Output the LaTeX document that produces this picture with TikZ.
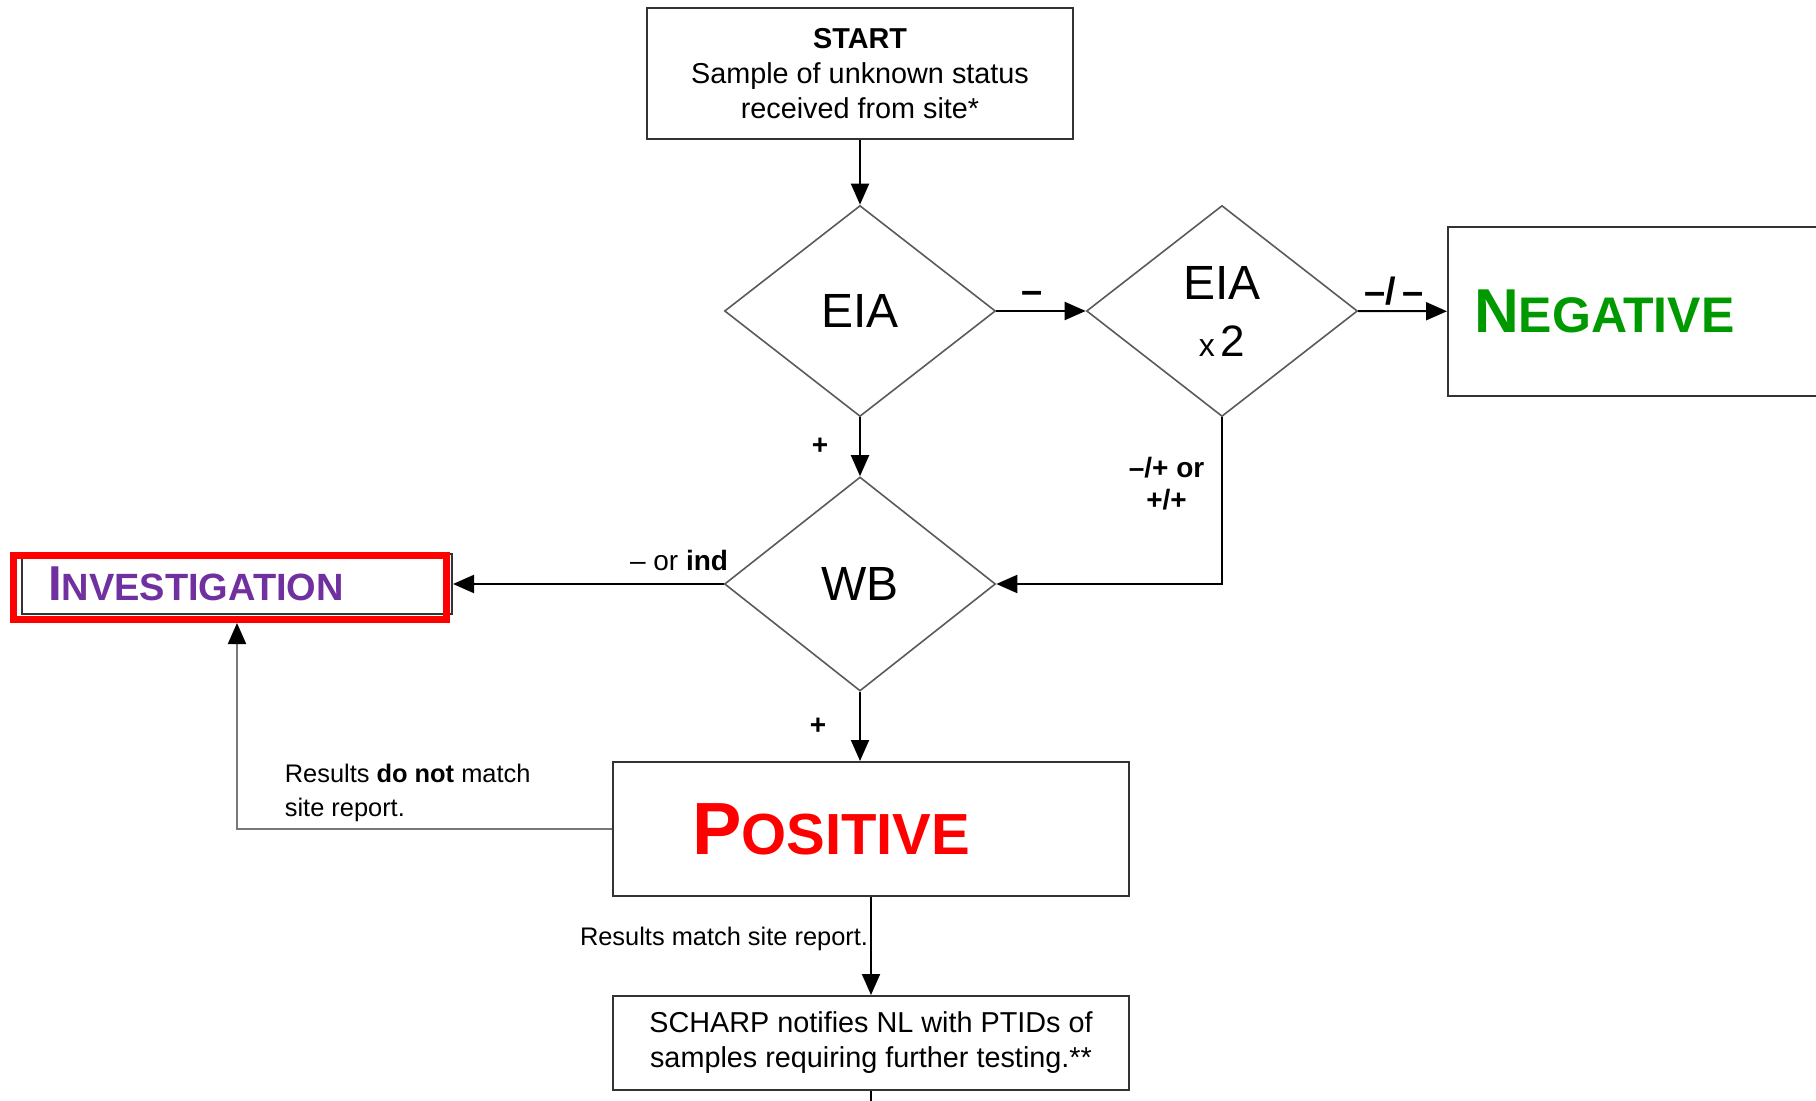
\documentclass[tikz,border=0pt]{standalone}
\usepackage{fontspec}
\setmainfont{Liberation Sans}
\usetikzlibrary{shapes.geometric,arrows.meta,positioning}

\definecolor{neggreen}{RGB}{0,153,0}
\definecolor{invpurple}{RGB}{112,48,160}
\definecolor{diagray}{RGB}{90,90,90}
\definecolor{linegray}{RGB}{120,120,120}

\begin{document}
\begin{tikzpicture}[x=0.5pt, y=-0.5pt, font=\fontsize{14.4}{17.5}\selectfont,
    box/.style={draw=black!80, line width=1pt, rectangle, inner sep=0pt, align=center},
    dia/.style={draw=diagray, line width=0.8pt, diamond, inner sep=0pt,
        minimum width=135.5pt, minimum height=105.5pt, align=center},
    arr/.style={line width=1pt, -{Triangle[length=10.5pt,width=9pt,color=black]}},
    lbl/.style={font=\fontsize{14}{16}\selectfont\bfseries},
    dashlbl/.style={font=\fontsize{19}{19}\selectfont\bfseries},
    note/.style={font=\fontsize{12.7}{17}\selectfont, inner sep=0pt}]

    % --- page ---
    \clip (0,0) rectangle (1816,1101);

    % --- boxes and decisions ---
    \node[box, minimum width=213pt, minimum height=65.5pt] (start) at (860,73.5)
        {\textbf{START}\\Sample of unknown status\\received from site*};
    \node[dia] (eia) at (860,311) {\fontsize{24}{24}\selectfont EIA};
    \node[dia, font=\fontsize{24}{28.5}\selectfont] (eiatwo) at (1222,311)
        {EIA\\{\fontsize{16}{16}\selectfont x}\hspace{3pt}{\fontsize{22}{22}\selectfont 2}};
    \node[box, minimum width=210pt, minimum height=84.5pt, inner xsep=13pt,
        text width=184pt, align=left] (neg) at (1658,311.5)
        {\color{neggreen}\bfseries{\fontsize{31}{31}\selectfont N}{\fontsize{25}{25}\selectfont EGATIVE}};
    \node[dia, minimum height=107pt] (wb) at (860,584) {\fontsize{24}{24}\selectfont WB};

    % investigation box with red frame on top
    \node[box, minimum width=215pt, minimum height=30pt, inner xsep=13pt,
        text width=189pt, align=left] (inv) at (237,584)
        {\color{invpurple}\bfseries\raisebox{-2.5pt}{{\fontsize{24.5}{24}\selectfont I}{\fontsize{19}{19}\selectfont NVESTIGATION}}};
    \node[draw=red, line width=3.5pt, minimum width=216.5pt, minimum height=32pt,
        inner sep=0pt] (invframe) at (230,587.5) {};

    \node[box, minimum width=258pt, minimum height=67pt, inner xsep=39.5pt,
        text width=179pt, align=left] (pos) at (871,829)
        {\color{red}\bfseries{\fontsize{37}{37}\selectfont P}{\fontsize{29}{29}\selectfont OSITIVE}};
    \node[box, minimum width=258pt, minimum height=47pt] (scharp) at (871,1043)
        {SCHARP notifies NL with PTIDs of\\samples requiring further testing.**};
    \coordinate (tail) at (871,1110);

    % --- connectors ---
    \draw[arr] (start) -- (eia);
    \draw[arr] (eia) -- node[lbl, left=12pt] {+} (wb);
    \draw[arr] (eia) -- node[dashlbl, above=0pt, pos=0.4] {--} (eiatwo);
    \draw[arr] (eiatwo) -- node[dashlbl, above=-1pt, pos=0.4] {--/\,--} (neg);
    \draw[arr] (eiatwo.south) |- node[lbl, pos=0.2, left=5pt, align=center] {--/+ or\\+/+} (wb.east);
    \draw[arr] (wb) -- node[pos=0, anchor=south east, xshift=6pt, yshift=3pt,
        font=\fontsize{14}{16}\selectfont] {-- or \textbf{ind}} (inv);
    \draw[arr] (wb.south) -- node[lbl, left=13pt] {+} (wb.south |- pos.north);
    \draw[arr, draw=linegray] (pos.west) -| node[note, pos=0.4375, anchor=south west,
        align=left, yshift=3pt] {Results \textbf{do not} match\\site report.} (invframe.south -| inv);
    \draw[arr] (pos) -- node[note, left=1pt, pos=0.43] {Results match site report.} (scharp);
    \draw[line width=1pt] (scharp) -- (tail);

\end{tikzpicture}
\end{document}
